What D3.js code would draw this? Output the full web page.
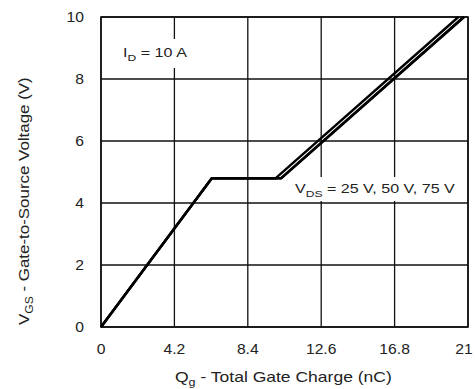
<!DOCTYPE html>
<html lang="en">
  <head>
    <script src="https://d3js.org/d3.v7.min.js"></script>
    <style>
      body {
        margin: 0;
        background: #fff;
      }
      text {
        font-family: "Liberation Sans", Arial, sans-serif;
        fill: #222;
      }
    </style>
  </head>

  <body>
    <svg width="475" height="389"></svg>
    <script>
      // ticks
      var xTicks = [0, 4.2, 8.4, 12.6, 16.8, 21];
      var yTicks = [0, 2, 4, 6, 8, 10];

      // gate charge curves, one per V_DS
      var series = ["25 V", "50 V", "75 V"];
      var qg25 = [0, 6.34, 10.0, 20.45];
      var vgs25 = [0, 4.8, 4.8, 10];
      var qg50 = [0, 6.34, 10.3, 20.75];
      var vgs50 = [0, 4.8, 4.8, 10];
      var qg75 = [0, 6.34, 10.33, 20.78];
      var vgs75 = [0, 4.8, 4.8, 10];

      var svg = d3.select("svg");
      var pLeft = 101, pTop = 17, pRight = 468, pBottom = 327;

      var x = d3.scaleLinear().domain([0, 21]).range([pLeft, pRight]);
      var y = d3.scaleLinear().domain([0, 10]).range([pBottom, pTop]);

      var g = svg.append("g");

      //grid lines
      g.selectAll(".vgrid")
        .data(xTicks)
        .enter()
        .append("line")
        .attr("x1", function (d) { return x(d); })
        .attr("x2", function (d) { return x(d); })
        .attr("y1", pTop)
        .attr("y2", pBottom)
        .attr("stroke", "#111")
        .attr("stroke-width", 1.3);
      g.selectAll(".hgrid")
        .data(yTicks)
        .enter()
        .append("line")
        .attr("y1", function (d) { return y(d); })
        .attr("y2", function (d) { return y(d); })
        .attr("x1", pLeft)
        .attr("x2", pRight)
        .attr("stroke", "#111")
        .attr("stroke-width", 1.3);

      //frame
      g.append("rect")
        .attr("x", pLeft)
        .attr("y", pTop)
        .attr("width", pRight - pLeft)
        .attr("height", pBottom - pTop)
        .attr("fill", "none")
        .attr("stroke", "#111")
        .attr("stroke-width", 1.6);

      //curves
      var line = d3.line()
        .x(function (d) { return x(d[0]); })
        .y(function (d) { return y(d[1]); });
      var curves = [
        d3.zip(qg25, vgs25),
        d3.zip(qg50, vgs50),
        d3.zip(qg75, vgs75)
      ];
      g.selectAll(".curve")
        .data(curves)
        .enter()
        .append("path")
        .attr("d", line)
        .attr("fill", "none")
        .attr("stroke", "#000")
        .attr("stroke-width", 2.4)
        .attr("stroke-linejoin", "round");

      // widen a text to the width it has in the picture
      function stretch(t, w) {
        var b = t.node().getBBox();
        var cx = b.x;
        t.attr("transform", "translate(" + cx + ",0) scale(" + w / b.width + ",1) translate(" + -cx + ",0)");
      }

      //labels with white backing
      function label(tx, ty, w, main, sub, rest, bx, by, bw, bh) {
        g.append("rect")
          .attr("x", bx).attr("y", by)
          .attr("width", bw).attr("height", bh)
          .attr("fill", "#fff");
        var t = g.append("text")
          .attr("x", tx)
          .attr("y", ty)
          .attr("font-size", "12px");
        t.append("tspan").text(main);
        t.append("tspan").attr("dy", 4).attr("font-size", "9px").text(sub);
        t.append("tspan").attr("dy", -4).text(rest);
        stretch(t, w);
      }

      label(123, 57, 64, "I", "D", " = 10 A", 117, 39, 76, 29);
      label(295, 193, 160, "V", "DS", " = " + series.join(", "), 290, 177, 172, 24);

      //tick labels
      svg.selectAll(".ylab")
        .data(yTicks)
        .enter()
        .append("text")
        .attr("x", 84)
        .attr("y", function (d) { return y(d) + 5; })
        .attr("text-anchor", "end")
        .attr("font-size", "14px")
        .attr("transform", "translate(84,0) scale(1.12,1) translate(-84,0)")
        .text(function (d) { return d; });
      svg.selectAll(".xlab")
        .data(xTicks)
        .enter()
        .append("text")
        .attr("x", function (d) { return Math.min(x(d), 464); })
        .attr("y", 354)
        .attr("text-anchor", "middle")
        .attr("font-size", "14px")
        .attr("transform", function (d) {
          var cx = Math.min(x(d), 464);
          return "translate(" + cx + ",0) scale(1.12,1) translate(" + -cx + ",0)";
        })
        .text(function (d) { return d; });

      //axis titles
      var xt = svg.append("text")
        .attr("x", 175)
        .attr("y", 382)
        .attr("font-size", "14px");
      xt.append("tspan").text("Q");
      xt.append("tspan").attr("dy", 4).attr("font-size", "10px").text("g");
      xt.append("tspan").attr("dy", -4).text(" - Total Gate Charge (nC)");
      stretch(xt, 217);

      var ytg = svg.append("g").attr("transform", "translate(29,325) rotate(-90)");
      var yt = ytg.append("text")
        .attr("x", 0)
        .attr("y", 0)
        .attr("font-size", "14px");
      yt.append("tspan").text("V");
      yt.append("tspan").attr("dy", 4).attr("font-size", "10px").text("GS");
      yt.append("tspan").attr("dy", -4).text(" - Gate-to-Source Voltage (V)");
      stretch(yt, 248);
    </script>
  </body>
</html>
